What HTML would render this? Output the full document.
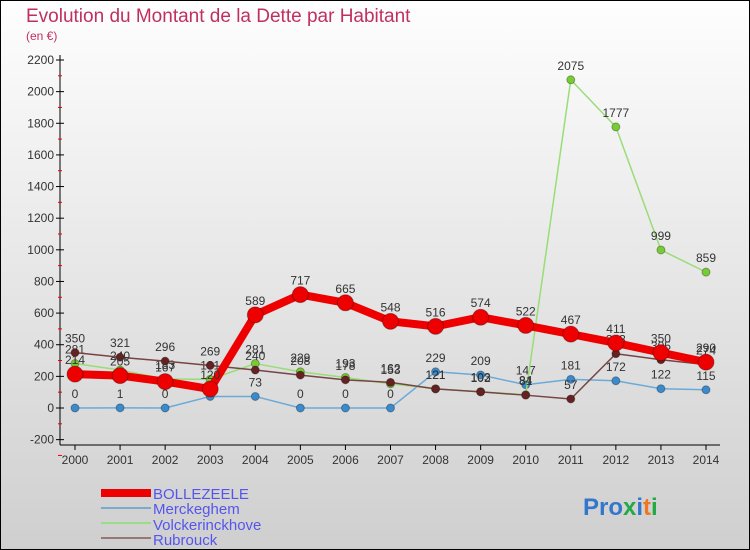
<!DOCTYPE html>
<html><head><meta charset="utf-8"><style>
html,body{margin:0;padding:0;width:750px;height:550px;overflow:hidden}
svg{display:block;font-family:"Liberation Sans",sans-serif}
</style></head><body>
<svg id="chart" width="750" height="550" viewBox="0 0 750 550">
<defs><linearGradient id="bg" x1="0" y1="0" x2="0" y2="1"><stop offset="0" stop-color="#fefefe"/><stop offset="1" stop-color="#cfcfcf"/></linearGradient></defs>
<rect x="0.5" y="0.5" width="749" height="549" fill="url(#bg)" stroke="#000"/>
<text x="26" y="22" font-size="19" fill="#c0305f">Evolution du Montant de la Dette par Habitant</text>
<text x="26" y="40" font-size="12" fill="#c0305f">(en €)</text>
<g id="axes"></g>
<g id="series"></g>
<g id="legend" font-size="15" fill="#5555ee">
<line x1="101" y1="493" x2="151" y2="493" stroke="#ee0000" stroke-width="8"/>
<text x="153" y="499">BOLLEZEELE</text>
<line x1="101" y1="508" x2="151" y2="508" stroke="#7aaacc" stroke-width="2"/>
<text x="153" y="514">Merckeghem</text>
<line x1="101" y1="523" x2="151" y2="523" stroke="#99dd88" stroke-width="2"/>
<text x="153" y="530">Volckerinckhove</text>
<line x1="101" y1="538" x2="151" y2="538" stroke="#997777" stroke-width="2"/>
<text x="153" y="545">Rubrouck</text>
</g>
<g font-size="24" font-weight="bold">
<text x="583" y="515"><tspan fill="#3377cc">Pro</tspan><tspan fill="#22aa44">x</tspan><tspan fill="#3377cc">i</tspan><tspan fill="#ee7722">t</tspan><tspan fill="#22aa44">i</tspan></text>
</g>
</svg>
<script>
const years=[2000,2001,2002,2003,2004,2005,2006,2007,2008,2009,2010,2011,2012,2013,2014];
const yTicks=[-200,0,200,400,600,800,1000,1200,1400,1600,1800,2000,2200];
const bollezeele=[214,205,167,120,589,717,665,548,516,574,522,467,411,350,290];
const merckeghem=[0,1,0,73,73,0,0,0,229,209,147,181,172,122,115];
const volckerinckhove=[281,240,183,181,281,229,193,153,121,103,84,2075,1777,999,859];
const rubrouck=[350,321,296,269,240,208,178,162,121,102,81,57,343,305,274];
const NS='http://www.w3.org/2000/svg';
const xs=i=>75+i*(706-75)/(years.length-1);
const ys=v=>408-v*(408-60)/2200;
function mk(tag,attrs,parent){const e=document.createElementNS(NS,tag);for(const k in attrs)e.setAttribute(k,attrs[k]);parent.appendChild(e);return e;}
const ax=document.getElementById('axes');
const yAxis=mk('line',{x1:60,y1:55,x2:60,y2:445,stroke:'#000'},ax);


const xAxis=mk('line',{x1:60,y1:445,x2:720,y2:445,stroke:'#000'},ax);


yTicks.forEach(v=>{const y=ys(v);
 mk('line',{x1:56,y1:y,x2:64,y2:y,stroke:'#000'},ax);
 mk('line',{x1:58,y1:y+15.8,x2:62,y2:y+15.8,stroke:'#e00'},ax);
 const t=mk('text',{x:54,y:y+4,'text-anchor':'end','font-size':12,fill:'#333'},ax);t.textContent=v;
 
 
});
years.forEach((yr,i)=>{const x=xs(i);
 mk('line',{x1:x,y1:445,x2:x,y2:450,stroke:'#000'},ax);
 const t=mk('text',{x:x,y:464,'text-anchor':'middle','font-size':12,fill:'#333'},ax);t.textContent=yr;
 
 
});
const sg=document.getElementById('series');
function series(data,color,w,r,dot,name){
 const g=mk('g',{},sg);
 
 
 const pl=mk('polyline',{points:data.map((v,i)=>xs(i)+','+ys(v)).join(' '),fill:'none',stroke:color,'stroke-width':w,'stroke-linejoin':'round'},g);
 
 
 data.forEach((v,i)=>{
  const c=mk('circle',{cx:xs(i),cy:ys(v),r:r,fill:dot,stroke:'rgba(0,0,0,0.3)'},g);
  
  
  const t=mk('text',{x:xs(i),y:ys(v)-10,'text-anchor':'middle','font-size':12,fill:'#333'},g);t.textContent=v;
  
  
 });
}
series(merckeghem,'#6aaad8',1.5,4,'#3a8acc','merckeghem');
series(volckerinckhove,'#99dd77',1.5,4,'#77cc33','volckerinckhove');
series(rubrouck,'#774444',1.5,4,'#662222','rubrouck');
series(bollezeele,'#ee0000',8,8,'#ee0000','bollezeele');
</script>
</body></html>
